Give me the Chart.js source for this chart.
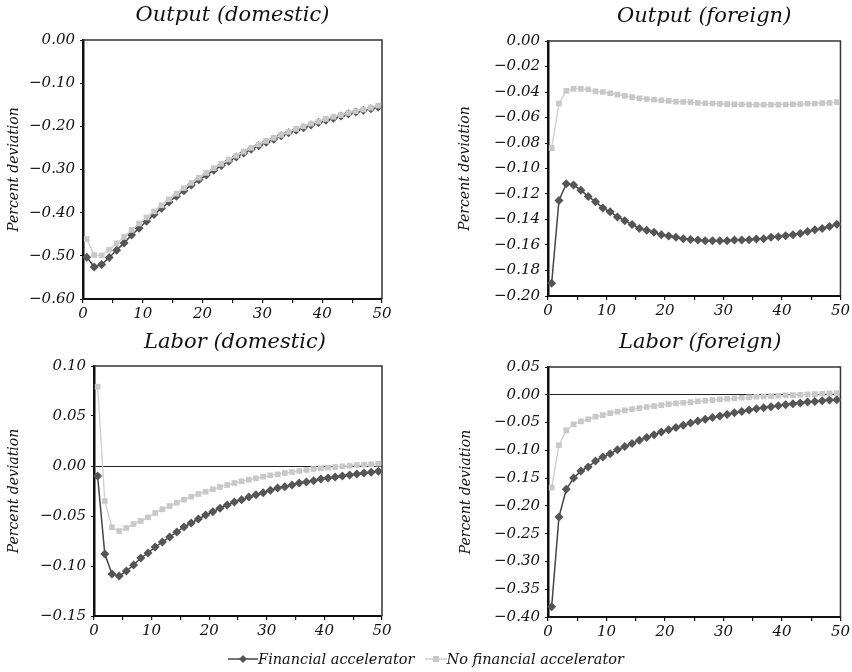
<!DOCTYPE html>
<html>
<head>
<meta charset="utf-8">
<script src="https://cdn.jsdelivr.net/npm/chart.js@4/dist/chart.umd.min.js"></script>
<style>
  body { margin: 0; background: #fff; }
  #wrap { position: relative; width: 852px; height: 672px; }
  .panel { position: absolute; }
  #legend {
    position: absolute; left: 0; top: 648px; width: 852px; height: 22px;
    display: flex; justify-content: center; align-items: center;
    font: italic 14.5px "DejaVu Serif", serif; color: #111;
  }
  #legend span.item { display: inline-flex; align-items: center; margin: 0 5px; }
  #legend svg { margin-right: 0; }
</style>
</head>
<body>
<div id="wrap">
  <div class="panel" style="left:0;top:0;width:426px;height:330px"><canvas id="c1"></canvas></div>
  <div class="panel" style="left:426px;top:0;width:426px;height:330px"><canvas id="c2"></canvas></div>
  <div class="panel" style="left:0;top:330px;width:426px;height:320px"><canvas id="c3"></canvas></div>
  <div class="panel" style="left:426px;top:330px;width:426px;height:320px"><canvas id="c4"></canvas></div>
  <div id="legend">
    <span class="item">
      <svg width="30" height="10"><line x1="0" y1="5" x2="30" y2="5" stroke="#444" stroke-width="1.5"/><path d="M15 1 L19 5 L15 9 L11 5 Z" fill="#555"/></svg>Financial accelerator
    </span>
    <span class="item">
      <svg width="22" height="10"><line x1="0" y1="5" x2="22" y2="5" stroke="#cfcfcf" stroke-width="1.5"/><rect x="8" y="2" width="6" height="6" fill="#c8c8c8"/></svg>No financial accelerator
    </span>
  </div>
</div>
<script>
// quarters after the shock
const quarters = Array.from({ length: 40 }, (_, i) => String(i + 1));
const xTicks = [0, 10, 20, 30, 40, 50];

const seriesNames = ['Financial accelerator', 'No financial accelerator'];

// Output (domestic)
const outputDomFA = [-0.503, -0.526, -0.520, -0.504, -0.487, -0.470, -0.452, -0.436, -0.420, -0.404,
  -0.390, -0.375, -0.362, -0.349, -0.336, -0.324, -0.313, -0.302, -0.291, -0.281,
  -0.271, -0.262, -0.253, -0.245, -0.237, -0.230, -0.222, -0.215, -0.209, -0.203,
  -0.197, -0.191, -0.186, -0.181, -0.176, -0.171, -0.167, -0.163, -0.159, -0.155];
const outputDomNFA = [-0.461, -0.498, -0.499, -0.486, -0.471, -0.456, -0.440, -0.425, -0.411, -0.397,
  -0.383, -0.369, -0.356, -0.343, -0.331, -0.319, -0.308, -0.297, -0.287, -0.277,
  -0.268, -0.259, -0.250, -0.242, -0.234, -0.227, -0.220, -0.213, -0.206, -0.200,
  -0.194, -0.189, -0.183, -0.178, -0.174, -0.169, -0.165, -0.161, -0.157, -0.152];

// Output (foreign)
const outputForFA = [-0.190, -0.125, -0.112, -0.113, -0.117, -0.122, -0.126, -0.131, -0.134, -0.138,
  -0.141, -0.144, -0.147, -0.1485, -0.150, -0.152, -0.153, -0.154, -0.155, -0.1556,
  -0.156, -0.1566, -0.1566, -0.1566, -0.1566, -0.156, -0.156, -0.1558, -0.1553, -0.155,
  -0.154, -0.1535, -0.1527, -0.152, -0.151, -0.1495, -0.148, -0.147, -0.1455, -0.1438];
const outputForNFA = [-0.084, -0.049, -0.039, -0.0375, -0.0375, -0.038, -0.0395, -0.040, -0.041, -0.042,
  -0.043, -0.044, -0.045, -0.0455, -0.046, -0.0465, -0.047, -0.0475, -0.0478, -0.048,
  -0.0485, -0.0488, -0.049, -0.0493, -0.0495, -0.0497, -0.0498, -0.0499, -0.050, -0.050,
  -0.050, -0.0499, -0.0498, -0.0496, -0.0494, -0.0492, -0.049, -0.0487, -0.0485, -0.048];

// Labor (domestic)
const laborDomFA = [-0.010, -0.088, -0.108, -0.110, -0.105, -0.099, -0.092, -0.087, -0.081, -0.076,
  -0.071, -0.066, -0.061, -0.057, -0.053, -0.049, -0.0457, -0.0423, -0.039, -0.036,
  -0.0337, -0.031, -0.0287, -0.0267, -0.0243, -0.022, -0.0207, -0.019, -0.017, -0.016,
  -0.0147, -0.013, -0.012, -0.011, -0.010, -0.009, -0.008, -0.007, -0.0063, -0.0053];
const laborDomNFA = [0.0793, -0.035, -0.0613, -0.065, -0.062, -0.058, -0.055, -0.0513, -0.047, -0.0433,
  -0.040, -0.0367, -0.0337, -0.0307, -0.028, -0.0257, -0.0233, -0.021, -0.019, -0.017,
  -0.0153, -0.0137, -0.0123, -0.0107, -0.0093, -0.0083, -0.007, -0.006, -0.005, -0.004,
  -0.003, -0.0023, -0.0017, -0.001, -0.0003, 0.0003, 0.001, 0.0013, 0.0017, 0.0023];

// Labor (foreign)
const laborForFA = [-0.3816, -0.220, -0.170, -0.150, -0.137, -0.130, -0.119, -0.112, -0.106, -0.099,
  -0.093, -0.0876, -0.082, -0.077, -0.072, -0.067, -0.063, -0.059, -0.055, -0.051,
  -0.0474, -0.044, -0.041, -0.038, -0.0354, -0.0324, -0.030, -0.0276, -0.025, -0.0234,
  -0.0216, -0.0198, -0.018, -0.0162, -0.015, -0.0132, -0.012, -0.0108, -0.0096, -0.009];
const laborForNFA = [-0.167, -0.0906, -0.064, -0.053, -0.048, -0.044, -0.0396, -0.0366, -0.033, -0.0306,
  -0.028, -0.0258, -0.024, -0.022, -0.0204, -0.0186, -0.0168, -0.0156, -0.0144, -0.0132,
  -0.012, -0.0108, -0.0096, -0.0084, -0.0072, -0.0066, -0.0054, -0.0048, -0.0036, -0.003,
  -0.0024, -0.0018, -0.0012, -0.0006, 0.0, 0.0006, 0.0012, 0.0018, 0.0024, 0.003];

const FONT = '"DejaVu Serif", serif';
const minus = v => v.toFixed(2).replace('-', '\u2212');

// title centred over the plot area, y label, top/right frame lines
const panelDecor = {
  id: 'panelDecor',
  beforeDatasetsDraw(chart, args, opts) {
    const { ctx, chartArea: a } = chart;
    ctx.save();
    ctx.strokeStyle = '#333';
    ctx.lineWidth = 1.5;
    ctx.beginPath();
    ctx.moveTo(a.left, a.top);
    ctx.lineTo(a.right, a.top);
    ctx.lineTo(a.right, a.bottom);
    ctx.stroke();
    ctx.restore();
  },
  afterDraw(chart, args, opts) {
    const { ctx, chartArea: a } = chart;
    ctx.save();
    ctx.fillStyle = '#111';
    ctx.textAlign = 'center';
    ctx.textBaseline = 'middle';
    ctx.font = 'italic 21px ' + FONT;
    ctx.fillText(opts.title, (a.left + a.right) / 2 + (opts.titleShift || 0), opts.titleY);
    ctx.translate(opts.labelX, (a.top + a.bottom) / 2);
    ctx.rotate(-Math.PI / 2);
    ctx.font = 'italic 14px ' + FONT;
    ctx.fillText('Percent deviation', 0, 0);
    ctx.restore();
  }
};

function makePanel(id, cfg) {
  new Chart(document.getElementById(id), {
    type: 'line',
    data: {
      labels: quarters,
      datasets: [
        {
          label: seriesNames[1], data: cfg.nfa,
          borderColor: '#d2d2d2', borderWidth: 1.5, backgroundColor: '#c8c8c8',
          pointStyle: 'rect', pointRadius: 4, pointBorderWidth: 0, tension: 0,
          xAxisID: 'x', yAxisID: 'y'
        },
        {
          label: seriesNames[0], data: cfg.fa,
          borderColor: '#444', borderWidth: 1.5, backgroundColor: '#555',
          pointStyle: 'rectRot', pointRadius: 4.5, pointBorderWidth: 0, tension: 0,
          xAxisID: 'x', yAxisID: 'y'
        }
      ]
    },
    options: {
      responsive: true,
      maintainAspectRatio: false,
      animation: false,
      events: [],
      layout: { padding: { left: 0, top: cfg.top, right: cfg.right, bottom: 0 } },
      plugins: {
        legend: { display: false },
        tooltip: { enabled: false },
        panelDecor: { title: cfg.title, titleY: cfg.titleY, labelX: cfg.labelX, titleShift: cfg.titleShift }
      },
      scales: {
        x: { type: 'category', offset: true, display: false },
        xv: {
          type: 'linear', position: 'bottom', min: 0, max: 50,
          afterBuildTicks: s => { s.ticks = [0, 5, 10, 15, 20, 25, 30, 35, 40, 45, 50].map(v => ({ value: v })); },
          afterFit: s => { s.height = cfg.xHeight; },
          border: { color: '#111', width: 2 },
          grid: { drawOnChartArea: false, drawTicks: true, tickLength: 4, color: '#111', lineWidth: 1.2 },
          ticks: {
            autoSkip: false, maxRotation: 0, padding: 2, color: '#111',
            font: { family: FONT, style: 'italic', size: 15 },
            callback: v => (xTicks.includes(v) ? String(v) : '')
          }
        },
        y: {
          min: cfg.min, max: cfg.max,
          afterBuildTicks: s => { s.ticks = cfg.yTicks.map(v => ({ value: v })); },
          afterFit: s => { s.width = cfg.yWidth; },
          border: { color: '#111', width: 2.5 },
          grid: {
            drawOnChartArea: true, drawTicks: true, tickLength: 3, tickColor: '#111',
            color: c => (c.tick && c.tick.value === 0 && cfg.zeroLine ? '#222' : 'rgba(0,0,0,0)'),
            lineWidth: 1
          },
          ticks: {
            padding: 5, color: '#111',
            font: { family: FONT, style: 'italic', size: 15 },
            callback: v => minus(v)
          }
        }
      }
    },
    plugins: [panelDecor]
  });
}

makePanel('c1', {
  title: 'Output (domestic)', fa: outputDomFA, nfa: outputDomNFA,
  min: -0.6, max: 0, yTicks: [0, -0.1, -0.2, -0.3, -0.4, -0.5, -0.6],
  top: 40, right: 44, yWidth: 83, xHeight: 31, titleY: 16, labelX: 14, zeroLine: false
});
makePanel('c2', {
  title: 'Output (foreign)', fa: outputForFA, nfa: outputForNFA,
  min: -0.2, max: 0, yTicks: [0, -0.02, -0.04, -0.06, -0.08, -0.1, -0.12, -0.14, -0.16, -0.18, -0.2],
  top: 41, right: 10, yWidth: 122, xHeight: 34, titleY: 17, labelX: 39, titleShift: 10, zeroLine: false
});
makePanel('c3', {
  title: 'Labor (domestic)', fa: laborDomFA, nfa: laborDomNFA,
  min: -0.15, max: 0.1, yTicks: [0.1, 0.05, 0, -0.05, -0.1, -0.15],
  top: 36, right: 44, yWidth: 94, xHeight: 34, titleY: 13, labelX: 14, titleShift: -3, zeroLine: true
});
makePanel('c4', {
  title: 'Labor (foreign)', fa: laborForFA, nfa: laborForNFA,
  min: -0.4, max: 0.05, yTicks: [0.05, 0, -0.05, -0.1, -0.15, -0.2, -0.25, -0.3, -0.35, -0.4],
  top: 37, right: 10, yWidth: 122, xHeight: 33, titleY: 13, labelX: 40, titleShift: 6, zeroLine: true
});
</script>
</body>
</html>
